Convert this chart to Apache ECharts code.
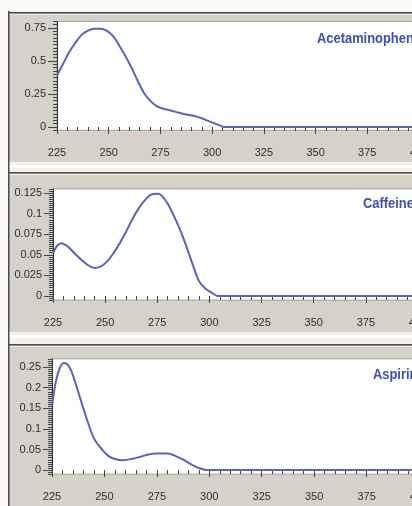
<!DOCTYPE html>
<html>
<head>
<meta charset="utf-8">
<script src="https://cdn.jsdelivr.net/npm/echarts@6/dist/echarts.min.js"></script>
<style>
  html, body { margin: 0; padding: 0; width: 412px; height: 506px; overflow: hidden; background: #f4f2e6; }
  #main { width: 460px; height: 506px; }
</style>
</head>
<body>
<div id="main"></div>
<script>
// wavelength (nm) and absorbance
var wlAcet = [225, 228, 231, 234, 237, 240, 243, 246, 249, 252, 255, 258, 261, 264, 267, 270, 273, 276, 280, 284, 288, 292, 296, 300, 304, 306, 310, 400];
var acetaminophen = [0.39, 0.48, 0.57, 0.64, 0.70, 0.73, 0.745, 0.745, 0.73, 0.69, 0.62, 0.54, 0.45, 0.35, 0.26, 0.20, 0.16, 0.14, 0.125, 0.108, 0.093, 0.082, 0.060, 0.035, 0.010, 0, 0, 0];

var wlCaff = [225, 227, 229, 231, 233, 236, 239, 242, 245, 248, 251, 254, 257, 260, 263, 266, 269, 272, 275, 277, 280, 283, 286, 289, 292, 295, 298, 301, 304, 310, 400];
var caffeine = [0.052, 0.061, 0.064, 0.062, 0.058, 0.050, 0.043, 0.037, 0.034, 0.036, 0.042, 0.052, 0.064, 0.078, 0.093, 0.106, 0.116, 0.123, 0.124, 0.122, 0.112, 0.097, 0.080, 0.060, 0.038, 0.018, 0.009, 0.004, 0, 0, 0];

var wlAsp = [225, 226.5, 228.5, 230.5, 232, 234, 237, 241, 245, 249, 252, 255, 259, 263, 267, 271, 275, 280, 284, 288, 292, 295, 299, 310, 400];
var aspirin = [0.154, 0.206, 0.245, 0.260, 0.258, 0.243, 0.198, 0.133, 0.077, 0.049, 0.034, 0.027, 0.024, 0.027, 0.032, 0.038, 0.040, 0.040, 0.034, 0.024, 0.012, 0.005, 0, 0, 0];

var names = ['Acetaminophen', 'Caffeine', 'Aspirin'];
var yMajors = [
  [0, 0.25, 0.5, 0.75],
  [0, 0.025, 0.05, 0.075, 0.1, 0.125],
  [0, 0.05, 0.1, 0.15, 0.2, 0.25]
];
var xTicks = [225, 250, 275, 300, 325, 350, 375, 400];

// panel layout: grid box and y range
var panels = [
  { left: 57, width: 362, top: 21.4, height: 108.9, min: -0.025, max: 0.8, step: 0.025, label: [317, 31] },
  { left: 53, width: 365, top: 188.9, height: 111.2, min: -0.005, max: 0.13, step: 0.0025, label: [363, 196] },
  { left: 52, width: 367, top: 358.8, height: 115.4, min: -0.01, max: 0.27, step: 0.005, label: [373, 367] }
];
var seriesData = [
  wlAcet.map(function (w, i) { return [w, acetaminophen[i]]; }),
  wlCaff.map(function (w, i) { return [w, caffeine[i]]; }),
  wlAsp.map(function (w, i) { return [w, aspirin[i]]; })
];

var lineColor = '#5a61c6';
var labelFont = { fontFamily: 'Liberation Sans, Arial, sans-serif', fontSize: 11, color: '#2e2e2e' };

var grid = [], xAxis = [], yAxis = [], series = [];
var graphic = [
  { type: 'rect', shape: { x: 0, y: 0, width: 460, height: 11 }, style: { fill: '#fbfaf6' }, z: -10, silent: true },
  { type: 'rect', shape: { x: 0, y: 0, width: 8, height: 506 }, style: { fill: '#fbfaf6' }, z: -10, silent: true }
];
var boxes = [[12, 162], [172, 332], [344, 506]];
boxes.forEach(function (b) {
  graphic.push({ type: 'rect', shape: { x: 9, y: b[0], width: 460, height: b[1] - b[0] }, style: { fill: '#d5d2c9' }, z: -9, silent: true });
  graphic.push({ type: 'rect', shape: { x: 9, y: b[0], width: 460, height: 1.5 }, style: { fill: '#4a4a4a' }, z: -8, silent: true });
  graphic.push({ type: 'rect', shape: { x: 9, y: b[0] + 2, width: 460, height: 1 }, style: { fill: '#eeece6' }, z: -8, silent: true });
});
[[162, 172], [332, 344]].forEach(function (b) {
  graphic.push({ type: 'rect', shape: { x: 9, y: b[0] + 3, width: 460, height: 3 }, style: { fill: '#ffffff' }, z: -8, silent: true });
});
graphic.push({ type: 'rect', shape: { x: 8, y: 11, width: 1.5, height: 495 }, style: { fill: '#4a4a4a' }, z: -7, silent: true });

panels.forEach(function (p, i) {
  grid.push({ left: p.left, top: p.top, width: p.width, height: p.height, show: true, backgroundColor: '#ffffff', borderColor: '#a0a0a0', borderWidth: 1 });
  xAxis.push({
    type: 'value', gridIndex: i, min: 225, max: 400, interval: 25, offset: 2,
    axisLine: { show: false },
    axisTick: { show: true, length: 7, lineStyle: { color: '#444' } },
    minorTick: { show: true, splitNumber: 5, length: 4, lineStyle: { color: '#444' } },
    splitLine: { show: false },
    axisLabel: Object.assign({ margin: 15, customValues: xTicks }, labelFont)
  });
  yAxis.push({
    type: 'value', gridIndex: i, min: p.min, max: p.max, interval: p.step, position: 'left',
    axisLine: { show: true, lineStyle: { color: '#333', width: 1 } },
    axisTick: { show: true, length: 4, lineStyle: { color: '#444' } },
    axisLabel: { show: false },
    splitLine: { show: false }
  });
  yAxis.push({
    type: 'value', gridIndex: i, min: p.min, max: p.max, position: 'left',
    axisLine: { show: false },
    axisTick: { show: true, length: 9, customValues: yMajors[i], lineStyle: { color: '#444' } },
    axisLabel: Object.assign({ margin: 11, customValues: yMajors[i] }, labelFont),
    splitLine: { show: false }
  });
  series.push({
    type: 'line', xAxisIndex: i, yAxisIndex: 2 * i, data: seriesData[i],
    smooth: 0.3, showSymbol: false, silent: true,
    lineStyle: { color: lineColor, width: 2 }
  });
  graphic.push({
    type: 'text', left: p.label[0], top: p.label[1], z: 100, silent: true, scaleX: 0.86,
    style: { text: names[i], fill: '#3f4eb4', font: 'bold 15px "Liberation Sans", Arial, sans-serif' }
  });
});

var chart = echarts.init(document.getElementById('main'));
chart.setOption({
  backgroundColor: '#f4f2e6',
  animation: false,
  grid: grid,
  xAxis: xAxis,
  yAxis: yAxis,
  series: series,
  graphic: graphic
});
</script>
</body>
</html>
